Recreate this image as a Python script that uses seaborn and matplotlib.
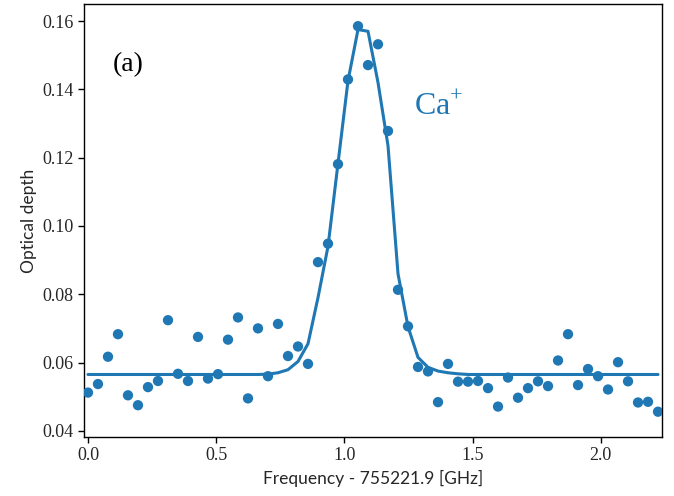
import matplotlib
matplotlib.use("Agg")
import matplotlib.pyplot as plt
import seaborn as sns
import pandas as pd

freq = [0.000, 0.039, 0.078, 0.117, 0.156, 0.195, 0.234, 0.273, 0.312, 0.351,
        0.390, 0.429, 0.468, 0.507, 0.546, 0.585, 0.624, 0.663, 0.702, 0.741,
        0.780, 0.819, 0.858, 0.897, 0.936, 0.975, 1.014, 1.053, 1.092, 1.131,
        1.170, 1.209, 1.248, 1.287, 1.326, 1.365, 1.404, 1.443, 1.482, 1.521,
        1.560, 1.599, 1.638, 1.677, 1.716, 1.755, 1.794, 1.833, 1.872, 1.911,
        1.950, 1.989, 2.028, 2.067, 2.106, 2.145, 2.184, 2.223]

depth = [0.0512, 0.0537, 0.0617, 0.0683, 0.0504, 0.0475, 0.0528, 0.0546, 0.0724, 0.0567,
         0.0546, 0.0675, 0.0553, 0.0566, 0.0667, 0.0732, 0.0495, 0.0700, 0.0560, 0.0713,
         0.0619, 0.0647, 0.0596, 0.0894, 0.0948, 0.1181, 0.1429, 0.1585, 0.1471, 0.1532,
         0.1278, 0.0813, 0.0706, 0.0587, 0.0574, 0.0484, 0.0596, 0.0544, 0.0544, 0.0546,
         0.0525, 0.0471, 0.0556, 0.0497, 0.0525, 0.0545, 0.0531, 0.0606, 0.0683, 0.0534,
         0.0581, 0.0560, 0.0521, 0.0601, 0.0545, 0.0483, 0.0485, 0.0456]

fit = [0.0565, 0.0565, 0.0565, 0.0565, 0.0565, 0.0565, 0.0565, 0.0565, 0.0565, 0.0565,
       0.0565, 0.0565, 0.0565, 0.0565, 0.0565, 0.0565, 0.0565, 0.0565, 0.0566, 0.0570,
       0.0579, 0.0603, 0.0655, 0.0790, 0.0940, 0.1183, 0.1425, 0.1575, 0.1570, 0.1420,
       0.1235, 0.0860, 0.0705, 0.0615, 0.0586, 0.0575, 0.0570, 0.0567, 0.0565, 0.0565,
       0.0565, 0.0565, 0.0565, 0.0565, 0.0565, 0.0565, 0.0565, 0.0565, 0.0565, 0.0565,
       0.0565, 0.0565, 0.0565, 0.0565, 0.0565, 0.0565, 0.0565, 0.0565]

xticks = [0.0, 0.5, 1.0, 1.5, 2.0]
yticks = [0.04, 0.06, 0.08, 0.10, 0.12, 0.14, 0.16]

sns.set_theme(style="ticks")
plt.rcParams['font.family'] = ['Liberation Serif', 'DejaVu Serif']
plt.rcParams['mathtext.fontset'] = 'custom'
plt.rcParams['mathtext.rm'] = 'Liberation Serif'

df = pd.DataFrame({"freq": freq, "depth": depth, "fit": fit})
color = "#1f77b4"

fig = plt.figure(figsize=(6.74, 4.96), dpi=100)
ax = fig.add_axes([0.1246, 0.119, 0.982 - 0.1246, 0.992 - 0.119])

sns.lineplot(data=df, x="freq", y="fit", ax=ax, color=color, linewidth=2.2)
sns.scatterplot(data=df, x="freq", y="depth", ax=ax, color=color, s=55,
                edgecolor="none", zorder=3)

ax.set_xlim(-0.0156, 2.238)
ax.set_ylim(0.0382, 0.165)
ax.set_xticks(xticks)
ax.set_xticklabels([f"{t:.1f}" for t in xticks])
ax.set_yticks(yticks)
ax.set_yticklabels([f"{t:.2f}" for t in yticks])
ax.tick_params(labelsize=13, length=4, width=1, color="black", direction="out")
for s in ax.spines.values():
    s.set_visible(True)
    s.set_color("black")
    s.set_linewidth(1.0)

lab_font = dict(family=['Lato', 'DejaVu Sans'], fontsize=12.5)
ax.set_xlabel("Frequency - 755221.9 [GHz]", **lab_font)
ax.set_ylabel("Optical depth", **lab_font)

ax.text(0.076, 0.861, "(a)", transform=ax.transAxes, fontsize=20,
        ha="center", va="center", color="black")
ax.text(0.613, 0.76, "Ca$^{+}$", transform=ax.transAxes, fontsize=23,
        ha="center", va="center", color=color)

fig.savefig("out.png", dpi=100)
